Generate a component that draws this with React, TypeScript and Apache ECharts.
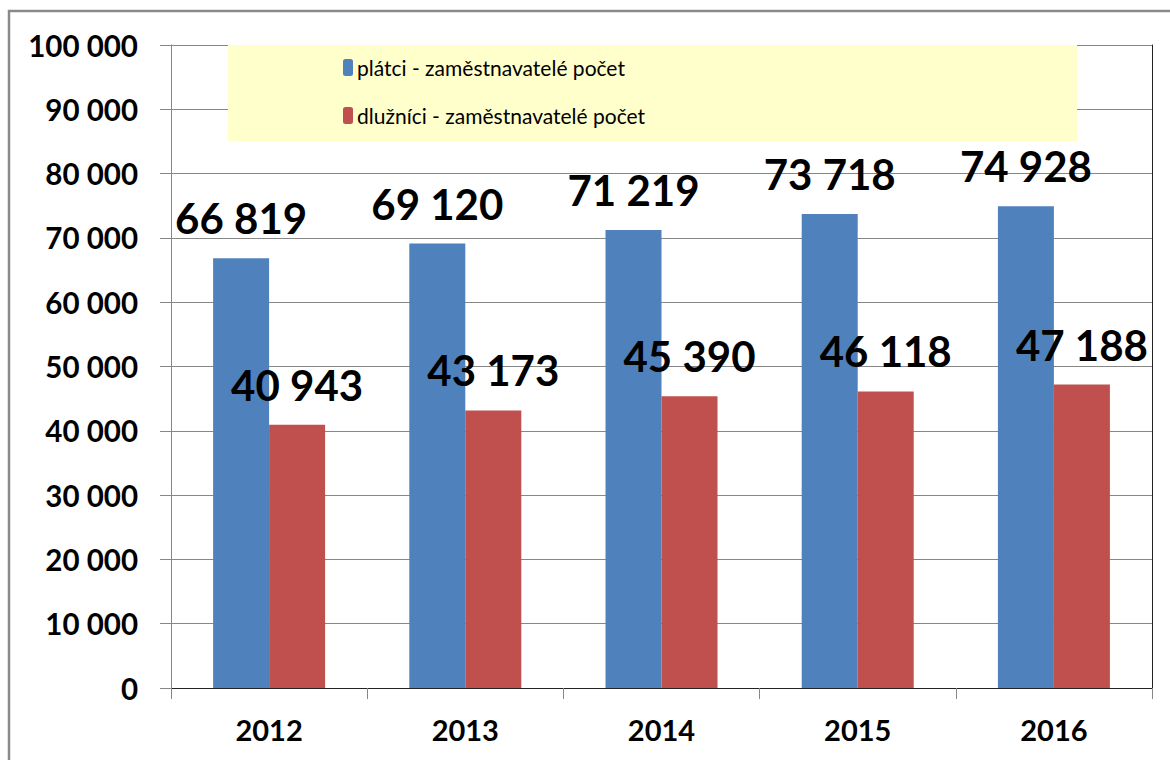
import React, { useEffect, useRef } from "react";
import * as echarts from "echarts";

const years = ["2012", "2013", "2014", "2015", "2016"];
const platci = [66819, 69120, 71219, 73718, 74928];
const dluznici = [40943, 43173, 45390, 46118, 47188];
const seriesNames = ["plátci - zaměstnavatelé počet", "dlužníci - zaměstnavatelé počet"];
const yMin = 0;
const yMax = 100000;
const yStep = 10000;

const fmt = (v: number) => String(v).replace(/\B(?=(\d{3})+(?!\d))/g, " ");

export default function App() {
  const ref = useRef<HTMLDivElement>(null);
  useEffect(() => {
    if (!ref.current) return;
    const chart = echarts.init(ref.current, null, { renderer: "svg" });
    const gray = "#878787";
    const labelFont = { fontFamily: "Lato, 'Open Sans', sans-serif", fontWeight: "bold" as const, color: "#000" };
    chart.setOption({
      animation: false,
      backgroundColor: "#fff",
      graphic: [
        { type: "rect", z: 0, shape: { x: 9, y: 11, width: 1200, height: 800 }, style: { fill: "none", stroke: "#8a8a8a", lineWidth: 2.5 } },
        { type: "rect", z: 3, shape: { x: 228, y: 45, width: 849, height: 96 }, style: { fill: "#FFFFCC" } },
      ],
      grid: { left: 171, right: 18, top: 45, bottom: 72 },
      legend: {
        orient: "vertical",
        left: 338,
        top: 52,
        z: 5,
        itemWidth: 10,
        itemHeight: 17,
        itemGap: 27,
        data: seriesNames,
        textStyle: { fontFamily: "Lato, sans-serif", fontSize: 21, color: "#000", padding: [0, 0, 0, -1] },
      },
      xAxis: [
        {
          type: "category",
          data: years,
          axisLine: { lineStyle: { color: gray, width: 1 } },
          axisTick: { show: true, length: 11, lineStyle: { color: gray } },
          axisLabel: { ...labelFont, fontSize: 29, margin: 27 },
        },
        {
          type: "category",
          data: years,
          position: "top",
          axisLine: { lineStyle: { color: "#222", width: 1 } },
          axisTick: { show: false },
          axisLabel: { show: false },
        },
      ],
      yAxis: [
        {
          type: "value",
          min: yMin,
          max: yMax,
          interval: yStep,
          axisLine: { show: true, lineStyle: { color: gray } },
          axisTick: { show: true, length: 11, lineStyle: { color: gray } },
          splitLine: { lineStyle: { color: gray, width: 1 } },
          axisLabel: { ...labelFont, fontSize: 29.5, margin: 33, formatter: (v: number) => fmt(v) },
        },
        {
          type: "value",
          min: yMin,
          max: yMax,
          interval: yStep,
          position: "right",
          axisLine: { show: true, lineStyle: { color: "#222" } },
          axisTick: { show: false },
          splitLine: { show: false },
          axisLabel: { show: false },
        },
      ],
      series: [
        {
          name: seriesNames[0],
          type: "bar",
          data: platci,
          barWidth: 56,
          barGap: "0%",
          itemStyle: { color: "#4F81BD" },
          label: { show: true, position: "top", distance: 19, ...labelFont, fontSize: 42, formatter: (p: any) => fmt(p.value) },
        },
        {
          name: seriesNames[1],
          type: "bar",
          data: dluznici,
          barWidth: 56,
          barGap: "0%",
          itemStyle: { color: "#C0504D" },
          label: { show: true, position: "top", distance: 19, ...labelFont, fontSize: 42, formatter: (p: any) => fmt(p.value) },
        },
      ],
    });
    return () => chart.dispose();
  }, []);
  return <div ref={ref} style={{ position: "fixed", left: 0, top: 0, width: 1170, height: 760 }} />;
}
